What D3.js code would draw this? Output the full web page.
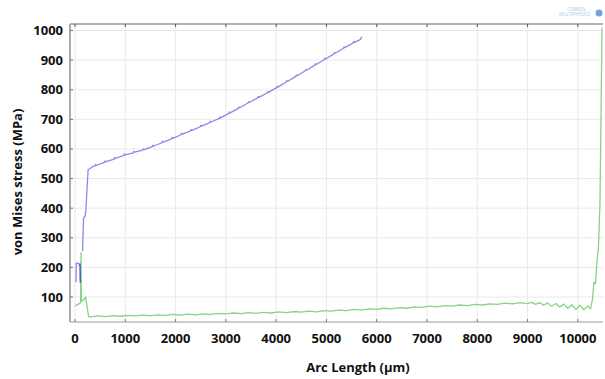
<!DOCTYPE html>
<html>
<head>
<meta charset="utf-8">
<script src="https://cdn.jsdelivr.net/npm/d3@7"></script>
<style>
  html, body { margin: 0; padding: 0; background: #fff; }
  svg { display: block; font-family: "Open Sans", sans-serif; }
  .tick-lbl { font-size: 13px; font-weight: 700; fill: #111; }
  .axis-title { font-size: 13px; font-weight: 700; fill: #111; }
</style>
</head>
<body>
<svg id="chart" width="605" height="379"></svg>
<script>
// ── Data (arc length in µm, von Mises stress in MPa) ────
const xTicks = [0, 1000, 2000, 3000, 4000, 5000, 6000, 7000, 8000, 9000, 10000];
const yTicks = [100, 200, 300, 400, 500, 600, 700, 800, 900, 1000];

// short pieces of the first curve near the start
const blueStart = [[20, 150], [25, 215], [80, 213], [85, 205]];
const blueDark  = [[100, 213], [105, 148]];

// main first curve, with its small bumps
const blueMain = [
  [150, 255], [170, 368], [200, 372], [215, 392], [260, 530], [350, 540],
  [400, 543], [410, 548], [425, 545], [590, 555], [600, 560], [615, 557],
  [780, 566], [790, 571], [805, 568], [970, 578], [980, 583], [995, 580],
  [1160, 587], [1170, 592], [1185, 589], [1350, 596], [1360, 601], [1375, 598],
  [1540, 608], [1550, 613], [1565, 610], [1730, 621], [1740, 626], [1755, 623],
  [1920, 634], [1930, 639], [1945, 636], [2110, 648], [2120, 653], [2135, 650],
  [2300, 661], [2310, 666], [2325, 663], [2490, 675], [2500, 680], [2515, 677],
  [2680, 689], [2690, 694], [2705, 691], [2870, 703], [2880, 708], [2895, 705],
  [3060, 720], [3070, 725], [3085, 722], [3250, 737], [3260, 742], [3275, 739],
  [3440, 755], [3450, 760], [3465, 757], [3630, 772], [3640, 777], [3655, 774],
  [3820, 789], [3830, 794], [3845, 791], [4010, 807], [4020, 812], [4035, 809],
  [4200, 826], [4210, 831], [4225, 828], [4390, 845], [4400, 850], [4415, 847],
  [4580, 864], [4590, 869], [4605, 866], [4770, 883], [4780, 888], [4795, 885],
  [4960, 902], [4970, 907], [4985, 904], [5150, 921], [5160, 926], [5175, 923],
  [5340, 940], [5350, 945], [5365, 942], [5530, 958], [5540, 963], [5555, 960],
  [5680, 970], [5700, 980]
];

// second curve
const green = [
  [0, 70], [60, 75], [110, 80], [120, 250], [125, 85], [180, 92], [210, 100], [270, 34],
  [300, 33], [450, 36], [600, 34], [750, 37], [900, 35], [1050, 38], [1200, 36],
  [1350, 39], [1500, 37], [1650, 40], [1800, 38], [1950, 41], [2100, 39], [2250, 42],
  [2400, 40], [2550, 43], [2700, 41], [2850, 45], [3000, 43], [3150, 46], [3300, 44],
  [3450, 47], [3600, 45], [3750, 48], [3900, 46], [4050, 50], [4200, 47], [4350, 51],
  [4500, 49], [4650, 52], [4800, 50], [4950, 54], [5100, 52], [5250, 56], [5400, 54],
  [5550, 58], [5700, 56], [5850, 60], [6000, 58], [6150, 62], [6300, 60], [6450, 64],
  [6600, 62], [6750, 67], [6900, 65], [7050, 69], [7200, 67], [7350, 71], [7500, 69],
  [7650, 73], [7800, 71], [7950, 75], [8100, 73], [8250, 77], [8400, 75], [8550, 79],
  [8700, 77], [8850, 81], [9000, 78], [9080, 82], [9160, 75], [9240, 81], [9320, 72],
  [9400, 80], [9480, 69], [9560, 78], [9640, 66], [9720, 76], [9800, 62], [9880, 74],
  [9960, 58], [10040, 72], [10120, 57], [10200, 70], [10250, 60], [10290, 92],
  [10320, 150], [10350, 145], [10380, 220], [10410, 270], [10440, 420], [10460, 700],
  [10480, 1010]
];

// ── Layout ────────────────────────────────────────────────────────────────────
const svg = d3.select("#chart");
const L = 70, R = 603, T = 24, B = 322;

const x = d3.scaleLinear().domain([-100, 10500]).range([L, R]);
const y = d3.scaleLinear().domain([15.6, 1022]).range([B, T]);

// ── Gridlines ────────────────────────────────────────────────────────────────
const grid = svg.append("g");
grid.selectAll("line.gx").data(xTicks).join("line")
  .attr("x1", d => x(d)).attr("x2", d => x(d))
  .attr("y1", T).attr("y2", B)
  .attr("stroke", "#e9e9e9").attr("stroke-width", 1);
grid.selectAll("line.gy").data(yTicks).join("line")
  .attr("x1", L).attr("x2", R)
  .attr("y1", d => y(d)).attr("y2", d => y(d))
  .attr("stroke", "#e9e9e9").attr("stroke-width", 1);

// ── Frame + tick marks ──────────────────────────────────────────────────────
svg.append("line").attr("x1", L).attr("x2", R).attr("y1", T).attr("y2", T)
  .attr("stroke", "#666").attr("stroke-width", 1);
svg.append("line").attr("x1", L).attr("x2", R).attr("y1", B).attr("y2", B)
  .attr("stroke", "#999").attr("stroke-width", 1);
svg.append("line").attr("x1", L).attr("x2", L).attr("y1", T).attr("y2", B)
  .attr("stroke", "#aaa").attr("stroke-width", 2);

svg.append("g").selectAll("line").data(xTicks).join("line")
  .attr("x1", d => x(d)).attr("x2", d => x(d))
  .attr("y1", T).attr("y2", T + 3).attr("stroke", "#555");
svg.append("g").selectAll("line").data(xTicks).join("line")
  .attr("x1", d => x(d)).attr("x2", d => x(d))
  .attr("y1", B).attr("y2", B - 3).attr("stroke", "#777");
svg.append("g").selectAll("line").data(yTicks).join("line")
  .attr("x1", L).attr("x2", L + 3)
  .attr("y1", d => y(d)).attr("y2", d => y(d)).attr("stroke", "#777");

// ── Tick labels ───────────────────────────────────────────────────────────────
svg.append("g").selectAll("text").data(xTicks).join("text")
  .attr("class", "tick-lbl")
  .attr("x", d => x(d)).attr("y", 343)
  .attr("text-anchor", "middle")
  .text(d => d);
svg.append("g").selectAll("text").data(yTicks).join("text")
  .attr("class", "tick-lbl")
  .attr("x", 63).attr("y", d => y(d) + 4.5)
  .attr("text-anchor", "end")
  .text(d => d);

// ── Axis titles ──────────────────────────────────────────────────────────────
svg.append("text").attr("class", "axis-title")
  .attr("x", 358).attr("y", 372).attr("text-anchor", "middle")
  .text("Arc Length (µm)");
svg.append("text").attr("class", "axis-title")
  .attr("transform", "translate(22,182) rotate(-90)")
  .attr("text-anchor", "middle")
  .text("von Mises stress (MPa)");

// ── Curves ───────────────────────────────────────────────────────────────────
const line = d3.line().x(d => x(d[0])).y(d => y(d[1]));
const curves = svg.append("g").attr("fill", "none").attr("stroke-linejoin", "round");
curves.append("path").datum(green).attr("d", line)
  .attr("stroke", "#86d486").attr("stroke-width", 1.3);
curves.append("path").datum(blueStart).attr("d", line)
  .attr("stroke", "#8a8ae6").attr("stroke-width", 1.3);
curves.append("path").datum(blueDark).attr("d", line)
  .attr("stroke", "#4a62c2").attr("stroke-width", 1.5);
curves.append("path").datum(blueMain).attr("d", line)
  .attr("stroke", "#8a8ae6").attr("stroke-width", 1.3);

// ── Software logo, top right ────────────────────────────────────────────────
const logo = svg.append("g").attr("fill", "#a9c8e0").style("font-size", "4.5px");
logo.append("text").attr("x", 586).attr("y", 11).attr("text-anchor", "end").text("COMSOL");
logo.append("text").attr("x", 590).attr("y", 16).attr("text-anchor", "end").text("MULTIPHYSICS");
svg.append("circle").attr("cx", 599).attr("cy", 13).attr("r", 3.5).attr("fill", "#6fa6d6");
</script>
</body>
</html>
